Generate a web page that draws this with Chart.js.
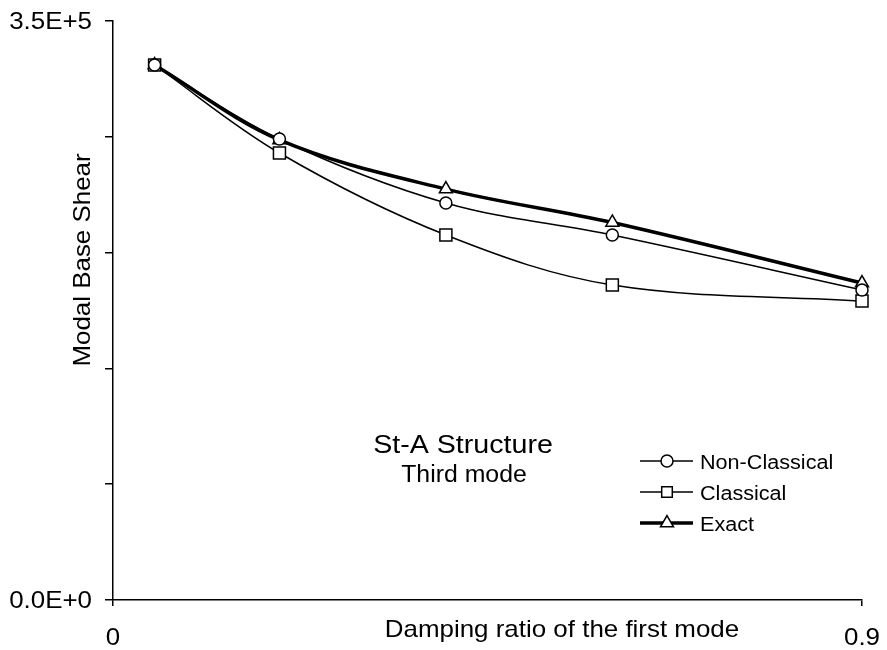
<!DOCTYPE html>
<html>
<head>
<meta charset="utf-8">
<script src="https://cdn.jsdelivr.net/npm/chart.js@4.4.0/dist/chart.umd.min.js"></script>
<style>
  html, body { margin: 0; padding: 0; background: #fff; }
  #wrap { width: 887px; height: 650px; position: relative; }
</style>
</head>
<body>
<div id="wrap"><canvas id="chart" width="887" height="650"></canvas></div>
<script>
const dampingRatio = [0.05, 0.2, 0.4, 0.6, 0.9];
const nonClassical = [323400, 278700, 240000, 220600, 187400];
const classical = [323400, 270200, 220600, 190400, 180700];
const exact = [323400, 278100, 248400, 228200, 191600];
const xTicks = [0, 0.9];
const xTickLabels = ["0", "0.9"];
const yTickLabels = { 0: "0.0E+0", 350000: "3.5E+5" };

const FONT = "Arial, 'Liberation Sans', sans-serif";
const STRETCH = 1.08; // text in the reference is a bit wide

const toPoints = (vals) => vals.map((v, i) => ({ x: dampingRatio[i], y: v }));

const series = [
  { label: "Non-Classical", data: toPoints(nonClassical), pointStyle: "circle", pointRadius: 6, borderWidth: 1.5 },
  { label: "Classical", data: toPoints(classical), pointStyle: "rect", pointRadius: 8.5, borderWidth: 1.5 },
  { label: "Exact", data: toPoints(exact), pointStyle: "triangle", pointRadius: 7.5, borderWidth: 3.5 },
];

const datasets = series.map((s) => ({
  ...s,
  borderColor: "#000",
  backgroundColor: "#fff",
  pointBackgroundColor: "#fff",
  pointBorderColor: "#000",
  pointBorderWidth: 1.5,
  tension: 0.35,
  fill: false,
  clip: false,
}));

// draws slightly widened text
function drawText(ctx, text, x, y, size, align, angle) {
  ctx.save();
  ctx.translate(x, y);
  if (angle) ctx.rotate(angle);
  ctx.scale(STRETCH, 1);
  ctx.font = size + "px " + FONT;
  ctx.textAlign = align;
  ctx.textBaseline = "alphabetic";
  ctx.fillText(text, 0, 0);
  ctx.restore();
}

const annotations = {
  id: "annotations",
  afterDraw(chart) {
    const ctx = chart.ctx;
    const xs = chart.scales.x;
    const ys = chart.scales.y;
    ctx.save();
    ctx.fillStyle = "#000";

    // tick labels
    Object.keys(yTickLabels).forEach((v) => {
      drawText(ctx, yTickLabels[v], 92, ys.getPixelForValue(Number(v)) + 8, 24, "right");
    });
    xTicks.forEach((v, i) => {
      drawText(ctx, xTickLabels[i], xs.getPixelForValue(v), 645, 24, "center");
    });

    // axis titles
    drawText(ctx, "Damping ratio of the first mode", 562, 637, 24, "center");
    drawText(ctx, "Modal Base Shear", 90, 260, 24, "center", -Math.PI / 2);

    // texts in the plot
    drawText(ctx, "St-A Structure", 463, 453, 26.5, "center");
    drawText(ctx, "Third mode", 464, 482, 23, "center");

    // legend
    chart.data.datasets.forEach((ds, i) => {
      const y = 461 + i * 31;
      ctx.strokeStyle = "#000";
      ctx.lineWidth = ds.borderWidth;
      ctx.beginPath();
      ctx.moveTo(640, y);
      ctx.lineTo(693, y);
      ctx.stroke();
      ctx.fillStyle = "#fff";
      ctx.lineWidth = 1.5;
      Chart.helpers.drawPoint(ctx, {
        pointStyle: ds.pointStyle,
        radius: ds.pointStyle === "rect" ? 7.5 : ds.pointRadius,
        borderWidth: 1.5,
        rotation: 0,
      }, 667, y);
      ctx.fillStyle = "#000";
      drawText(ctx, ds.label, 700, y + 8, 20, "left");
    });
    ctx.restore();
  },
};

new Chart(document.getElementById("chart"), {
  type: "line",
  data: { datasets },
  options: {
    responsive: false,
    animation: false,
    layout: { padding: { top: 21, right: 25, left: 0, bottom: 0 } },
    plugins: { legend: { display: false }, tooltip: { enabled: false } },
    scales: {
      x: {
        type: "linear",
        min: 0,
        max: 0.9,
        afterBuildTicks(scale) {
          scale.ticks = xTicks.map((v) => ({ value: v }));
        },
        afterFit(scale) {
          scale.height = 50;
        },
        border: { display: true, color: "#000", width: 1.5 },
        grid: { drawOnChartArea: false, drawTicks: true, tickLength: 6, color: "#000", lineWidth: 1.5 },
        ticks: { display: false },
      },
      y: {
        min: 0,
        max: 350000,
        afterFit(scale) {
          scale.width = 113;
        },
        border: { display: true, color: "#000", width: 1.5 },
        grid: { drawOnChartArea: false, drawTicks: true, tickLength: 8, color: "#000", lineWidth: 1.5 },
        ticks: { display: false, stepSize: 70000 },
      },
    },
  },
  plugins: [annotations],
});
</script>
</body>
</html>
